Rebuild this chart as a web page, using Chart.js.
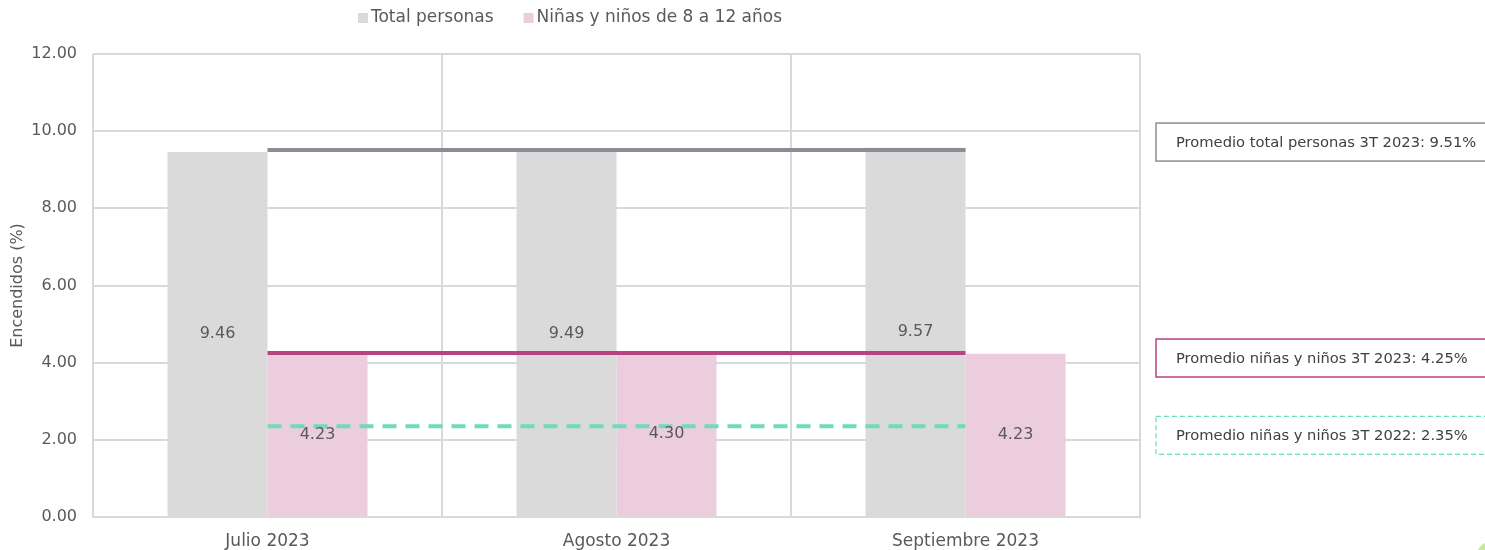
<!DOCTYPE html>
<html>
<head>
<meta charset="utf-8">
<script src="https://cdn.jsdelivr.net/npm/chart.js@4"></script>
<style>
html,body{margin:0;padding:0;background:#fff;}
#wrap{width:1485px;height:550px;}
</style>
</head>
<body>
<div id="wrap"><canvas id="chart"></canvas></div>
<script>
// Data
const months=["Julio 2023","Agosto 2023","Septiembre 2023"];
const totalPersonas=[9.46,9.49,9.57];
const ninos=[4.23,4.30,4.23];
const avgTotal2023=9.51;
const avgNinos2023=4.25;
const avgNinos2022=2.35;
const notes=["Promedio total personas 3T 2023: 9.51%","Promedio niñas y niños 3T 2023: 4.25%","Promedio niñas y niños 3T 2022: 2.35%"];

const FONT='"DejaVu Sans", sans-serif';
const TXT='#595959';

// bar value labels, centered in each bar
const barLabels={id:'barLabels',afterDatasetsDraw(chart){
  let ctx=chart.ctx; ctx.save();
  ctx.font='16px '+FONT; ctx.fillStyle=TXT; ctx.textAlign='center'; ctx.textBaseline='middle';
  chart.data.datasets.forEach((ds,i)=>{
    if(ds.type==='line') return;
    chart.getDatasetMeta(i).data.forEach((bar,j)=>{
      ctx.fillText(ds.data[j].toFixed(2),bar.x,(bar.y+bar.base)/2);
    });
  });
  ctx.restore();
}};

// legend (only the bar series), drawn by hand for tight spacing
const topLegend={id:'topLegend',afterDraw(chart){
  let ctx=chart.ctx; ctx.save();
  ctx.font='17px '+FONT; ctx.textBaseline='middle'; ctx.textAlign='left';
  let items=chart.data.datasets.filter(d=>d.type!=='line');
  let total=items.reduce((s,d)=>s+13+ctx.measureText(d.label).width,0)+30*(items.length-1);
  let x=chart.chartArea.right/2-total/2, y=18;
  items.forEach(d=>{
    ctx.fillStyle=d.backgroundColor; ctx.fillRect(x,y-5,10,10);
    ctx.fillStyle=TXT; ctx.fillText(d.label,x+13,y);
    x+=13+ctx.measureText(d.label).width+30;
  });
  ctx.restore();
}};

// note boxes on the right
const noteBoxes={id:'noteBoxes',afterDraw(chart){
  let ctx=chart.ctx, y=chart.scales.y, a=chart.chartArea;
  let vals=[avgTotal2023,avgNinos2023,avgNinos2022];
  let shift=[-8,5,9];
  let cols=['#8c8c94','#b8447f','#6ddcb9'];
  ctx.save();
  vals.forEach((v,i)=>{
    let cy=y.getPixelForValue(v)+shift[i];
    let x0=a.right+16, w=chart.width-x0+4, h=38;
    ctx.strokeStyle=cols[i]; ctx.lineWidth=i==2?1.2:1.5;
    ctx.setLineDash(i==2?[5,3]:[]);
    ctx.strokeRect(x0,cy-h/2,w,h);
    ctx.setLineDash([]);
    ctx.font='14.7px '+FONT; ctx.fillStyle='#404040'; ctx.textAlign='left'; ctx.textBaseline='middle';
    ctx.fillText(notes[i],x0+20,cy+1);
  });
  // small logo circle corner
  ctx.fillStyle='#c6eaa4'; ctx.beginPath(); ctx.arc(chart.width+5,chart.height+5,13,0,Math.PI*2); ctx.fill();
  ctx.restore();
}};

new Chart(document.getElementById('chart'),{
  type:'bar',
  data:{labels:months,datasets:[
    {type:'line',label:'avgTotal',data:months.map(()=>avgTotal2023),borderColor:'#8c8c94',borderWidth:4,pointRadius:0,order:0},
    {type:'line',label:'avgNinos',data:months.map(()=>avgNinos2023),borderColor:'#b8447f',borderWidth:4,pointRadius:0,order:0},
    {type:'line',label:'avgNinos22',data:months.map(()=>avgNinos2022),borderColor:'#6ddcb9',borderWidth:4,borderDash:[14,9],pointRadius:0,order:0},
    {label:'Total personas',data:totalPersonas,backgroundColor:'#dadada',barPercentage:1,categoryPercentage:0.573,order:1},
    {label:'Niñas y niños de 8 a 12 años',data:ninos,backgroundColor:'#ebcddd',barPercentage:1,categoryPercentage:0.573,order:1}
  ]},
  options:{
    responsive:true,maintainAspectRatio:false,animation:false,
    layout:{padding:{left:4,right:345,top:54,bottom:0}},
    plugins:{legend:{display:false},tooltip:{enabled:false}},
    scales:{
      x:{grid:{color:'#d9d9d9',lineWidth:2,offset:true,drawTicks:false},border:{color:'#d9d9d9',width:2},
         afterFit:s=>{s.height=33;},
         ticks:{color:TXT,padding:14,font:{family:FONT,size:17}}},
      y:{min:0,max:12,grid:{color:'#d9d9d9',lineWidth:2,drawTicks:false},border:{display:false},
         afterFit:s=>{s.width=89;},
         ticks:{stepSize:2,color:TXT,padding:16,font:{family:FONT,size:16},callback:v=>v.toFixed(2)},
         title:{display:true,text:'Encendidos (%)',color:TXT,font:{family:FONT,size:16}}}
    }
  },
  plugins:[barLabels,topLegend,noteBoxes]
});
</script>
</body>
</html>
